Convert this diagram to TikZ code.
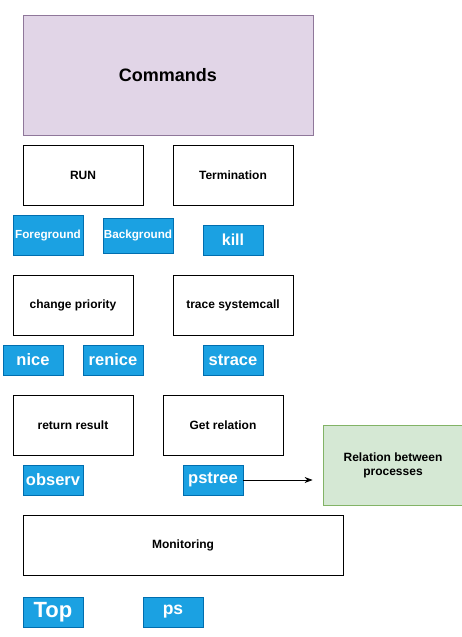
\documentclass[tikz,border=0pt]{standalone}
\usepackage{fontspec}
\setmainfont{Liberation Sans}
\usetikzlibrary{arrows.meta}
\definecolor{purplefill}{HTML}{E1D5E7}
\definecolor{purpleline}{HTML}{9673A6}
\definecolor{greenfill}{HTML}{D5E8D4}
\definecolor{greenline}{HTML}{82B366}
\definecolor{bluefill}{HTML}{1BA1E2}
\definecolor{blueline}{HTML}{006EAF}
\tikzset{
  box/.style={draw=black, line width=0.8pt, fill=white, inner sep=0pt, align=center, font=\bfseries\fontsize{12}{14}\selectfont},
  cmd/.style={draw=blueline, line width=0.8pt, fill=bluefill, text=white, inner sep=0pt, font=\bfseries\fontsize{16.5}{18}\selectfont},
  cmdsmall/.style={cmd, font=\bfseries\fontsize{11.7}{13}\selectfont},
}
\newcommand{\rbox}[6]{\node[#1, minimum width=#4-#2, minimum height=#5-#3] (#6) at ({(#2+#4)/2},{(#3+#5)/2})}
\begin{document}
\begin{tikzpicture}[x=1pt,y=-1pt]
\useasboundingbox (0,0) rectangle (462,637);
\rbox{box, draw=purpleline!70!gray, fill=purplefill, font=\bfseries\fontsize{18}{20}\selectfont}{23}{15}{313}{135}{commands} {Commands};
\rbox{box}{23}{145}{143}{205}{run} {RUN};
\rbox{box}{173}{145}{293}{205}{term} {Termination};
\rbox{cmdsmall}{13}{215}{83}{255}{fg} {Foreground};
\rbox{cmdsmall}{103}{218}{173}{253}{bg} {Background};
\rbox{cmd, font=\bfseries\fontsize{16}{18}\selectfont}{203}{225}{263}{255}{kill} {kill};
\rbox{box}{13}{275}{133}{335}{prio} {change priority};
\rbox{box}{173}{275}{293}{335}{trace} {trace systemcall};
\rbox{cmd}{3}{345}{63}{375}{nice} {nice};
\rbox{cmd}{83}{345}{143}{375}{renice} {renice};
\rbox{cmd}{203}{345}{263}{375}{strace} {strace};
\rbox{box}{13}{395}{133}{455}{ret} {return result};
\rbox{box}{163}{395}{283}{455}{getrel} {Get relation};
\rbox{box, draw=greenline, fill=greenfill}{323}{425}{463}{505}{relproc} {Relation between\\processes};
\rbox{cmd}{23}{465}{83}{495}{observ} {observ};
\rbox{cmd}{183}{465}{243}{495}{pstree} {pstree};
\rbox{box}{23}{515}{343}{575}{mon} {Monitoring};
\rbox{cmd, font=\bfseries\fontsize{22}{24}\selectfont}{23}{597}{83}{627}{top} {Top};
\rbox{cmd, font=\bfseries\fontsize{17.5}{19}\selectfont}{143}{597}{203}{627}{ps} {ps};
\draw[line width=0.8pt, -{Stealth[length=8pt,width=6pt]}, shorten >=10pt] (pstree.east) -- (pstree.east -| relproc.west);
\end{tikzpicture}
\end{document}
